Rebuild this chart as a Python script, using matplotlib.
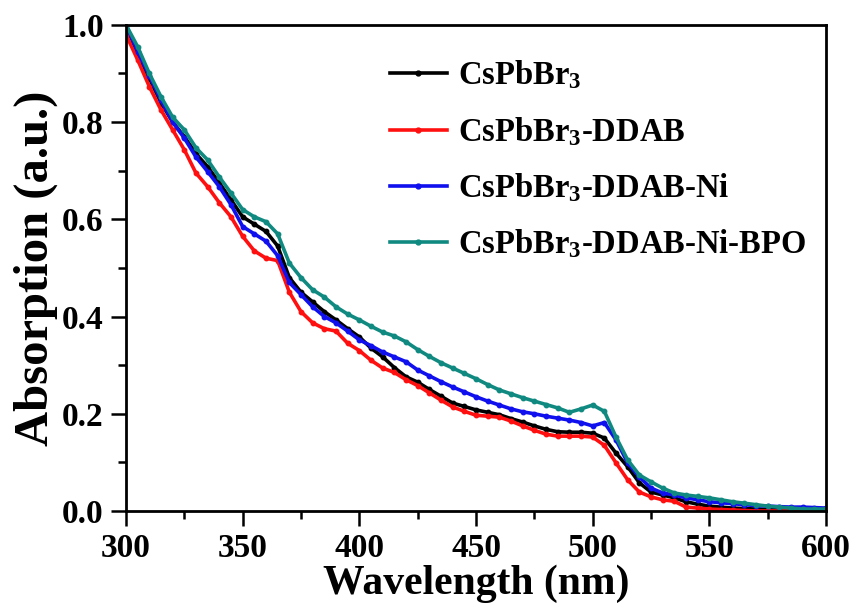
import numpy as np
import matplotlib
matplotlib.use("Agg")
import matplotlib.pyplot as plt
from matplotlib.ticker import MultipleLocator

# wavelength grid (nm), 5 nm steps
wavelength = np.arange(300, 601, 5)

# absorption values
cspbbr3 = [1.00, 0.94, 0.89, 0.84, 0.80, 0.77, 0.735, 0.708, 0.675, 0.64,
           0.605, 0.59, 0.575, 0.545, 0.48, 0.45, 0.43, 0.41, 0.393, 0.375,
           0.358, 0.335, 0.317, 0.295, 0.276, 0.265, 0.25, 0.236, 0.222, 0.215,
           0.208, 0.203, 0.198, 0.19, 0.183, 0.175, 0.168, 0.163, 0.162, 0.162,
           0.16, 0.15, 0.119, 0.091, 0.058, 0.039, 0.033, 0.027, 0.019, 0.014,
           0.01, 0.008, 0.006, 0.005, 0.004, 0.003, 0.002, 0.002, 0.001, 0.001,
           0.0]
cspbbr3_ddab = [0.98, 0.928, 0.873, 0.825, 0.784, 0.743, 0.695, 0.667, 0.634, 0.605,
                0.565, 0.535, 0.52, 0.515, 0.45, 0.41, 0.387, 0.375, 0.37, 0.345,
                0.33, 0.31, 0.294, 0.285, 0.27, 0.258, 0.243, 0.228, 0.214, 0.205,
                0.197, 0.195, 0.193, 0.185, 0.175, 0.166, 0.158, 0.154, 0.154, 0.154,
                0.152, 0.135, 0.099, 0.064, 0.039, 0.029, 0.023, 0.02, 0.008, 0.006,
                0.004, 0.003, 0.002, 0.001, 0.0, 0.0, 0.0, 0.0, 0.0, 0.0,
                0.0]
cspbbr3_ddab_ni = [1.00, 0.945, 0.895, 0.845, 0.80, 0.767, 0.728, 0.698, 0.667, 0.63,
                   0.585, 0.57, 0.555, 0.525, 0.47, 0.445, 0.42, 0.40, 0.387, 0.37,
                   0.352, 0.34, 0.327, 0.317, 0.307, 0.29, 0.278, 0.266, 0.255, 0.245,
                   0.235, 0.226, 0.218, 0.21, 0.204, 0.20, 0.195, 0.191, 0.187, 0.182,
                   0.175, 0.182, 0.146, 0.099, 0.07, 0.047, 0.037, 0.033, 0.027, 0.023,
                   0.019, 0.017, 0.015, 0.013, 0.011, 0.01, 0.009, 0.008, 0.008, 0.007,
                   0.006]
cspbbr3_ddab_ni_bpo = [1.00, 0.955, 0.90, 0.852, 0.81, 0.784, 0.747, 0.722, 0.687, 0.654,
                       0.62, 0.605, 0.595, 0.57, 0.51, 0.48, 0.455, 0.44, 0.42, 0.405,
                       0.393, 0.38, 0.368, 0.36, 0.348, 0.332, 0.318, 0.305, 0.294, 0.283,
                       0.272, 0.26, 0.249, 0.241, 0.233, 0.226, 0.219, 0.212, 0.203, 0.21,
                       0.218, 0.205, 0.152, 0.105, 0.074, 0.06, 0.047, 0.037, 0.033, 0.03,
                       0.027, 0.023, 0.019, 0.016, 0.013, 0.01, 0.008, 0.006, 0.004, 0.004,
                       0.004]

labels = ["CsPbBr$_3$", "CsPbBr$_3$-DDAB", "CsPbBr$_3$-DDAB-Ni", "CsPbBr$_3$-DDAB-Ni-BPO"]
colors = ["black", "#ff1010", "#1010ee", "#108a80"]

plt.rcParams["font.family"] = "Liberation Serif"
plt.rcParams["font.weight"] = "bold"
plt.rcParams["mathtext.fontset"] = "custom"
plt.rcParams["mathtext.rm"] = "Liberation Serif:bold"
plt.rcParams["mathtext.default"] = "rm"

fig = plt.figure(figsize=(8.6, 6.1), dpi=100)
ax = fig.add_axes([0.1465, 0.1623, 0.814, 0.797])

series = [cspbbr3, cspbbr3_ddab, cspbbr3_ddab_ni, cspbbr3_ddab_ni_bpo]
for y, c, lab in zip(series, colors, labels):
    ax.plot(wavelength, y, color=c, lw=2.6, marker="o", ms=3.2, label=lab)

ax.set_xlim(300, 600)
ax.set_ylim(0, 1.0)
ax.xaxis.set_major_locator(MultipleLocator(50))
ax.xaxis.set_minor_locator(MultipleLocator(25))
ax.yaxis.set_major_locator(MultipleLocator(0.2))
ax.yaxis.set_minor_locator(MultipleLocator(0.1))
ax.yaxis.set_major_formatter(matplotlib.ticker.FormatStrFormatter("%.1f"))
ax.tick_params(which="major", direction="out", length=11, width=1.8, labelsize=24, pad=5)
ax.tick_params(which="minor", direction="out", length=6, width=1.8)
for s in ax.spines.values():
    s.set_linewidth(2)

ax.set_xlabel("Wavelength (nm)", fontsize=30, fontweight="bold", labelpad=0)
ax.set_ylabel("Absorption (a.u.)", fontsize=35, fontweight="bold", labelpad=3)

leg = ax.legend(loc="upper left", bbox_to_anchor=(0.377, 0.93), frameon=False, fontsize=23.5,
                handlelength=1.75, handletextpad=0.35, labelspacing=0.72,
                borderpad=0, borderaxespad=0)
for h in leg.legend_handles:
    h.set_linewidth(2.6)
    h.set_markersize(3.5)

fig.savefig("out.png", dpi=100)
